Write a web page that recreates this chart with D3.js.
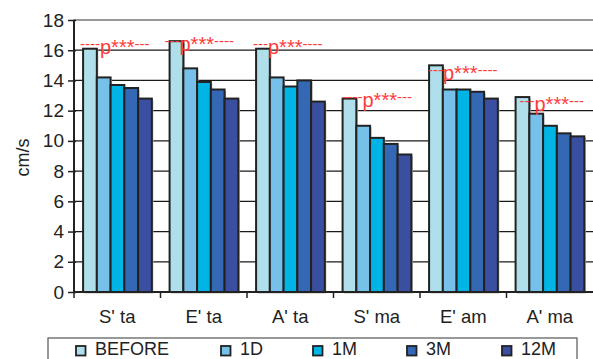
<!DOCTYPE html>
<html><head><meta charset="utf-8">
<script src="https://cdn.jsdelivr.net/npm/d3@7"></script>
<style>
html,body{margin:0;padding:0;background:#fff;}
svg{display:block;font-family:"Liberation Sans",Arial,sans-serif;}
</style></head>
<body>
<svg id="c" width="593" height="359"></svg>
<script>
const categories = ["S' ta", "E' ta", "A' ta", "S' ma", "E' am", "A' ma"];
const seriesNames = ["BEFORE", "1D", "1M", "3M", "12M"];
const before = [16.1, 16.6, 16.1, 12.8, 15.0, 12.9];
const d1     = [14.2, 14.8, 14.2, 11.0, 13.4, 11.8];
const m1     = [13.7, 13.9, 13.6, 10.2, 13.4, 11.0];
const m3     = [13.5, 13.4, 14.0,  9.8, 13.25, 10.5];
const m12    = [12.8, 12.8, 12.6,  9.1, 12.8, 10.3];
const yTicks = [0, 2, 4, 6, 8, 10, 12, 14, 16, 18];
const annotations = ["----p***---", "---p***----", "---p***----", "----p***---", "---p***----", "---p***---"];
const annotationLevel = [16.35, 16.55, 16.35, 12.85, 14.65, 12.6];

const colors = ["#aedfea", "#76c0e9", "#00b5e5", "#3468b5", "#3a4fa0"];
const seriesValues = [before, d1, m1, m3, m12];

const svg = d3.select("#c");
const L = 74, R = 593, T = 20, B = 292;
const FONT = "Liberation Sans, Arial, sans-serif";

const x = d3.scaleBand().domain(categories).range([L, R]).paddingInner(0).paddingOuter(0);
const bw = x.bandwidth();
const xs = d3.scaleBand().domain(seriesNames).range([bw * 0.105, bw * 0.9]).padding(0);
const y = d3.scaleLinear().domain([0, 18]).range([B, T]);

// plot border
svg.append("rect").attr("x", L).attr("y", T).attr("width", R - L + 2).attr("height", B - T)
  .attr("fill", "none").attr("stroke", "#777").attr("stroke-width", 1.5);

// grid lines
svg.append("g").selectAll("line").data(yTicks.filter(t => t > 0 && t < 18)).join("line")
  .attr("x1", L).attr("x2", R).attr("y1", d => y(d)).attr("y2", d => y(d))
  .attr("stroke", "#1a1a1a").attr("stroke-width", 1.3);

// bars
const rows = [];
categories.forEach((c, i) => seriesNames.forEach((s, j) => rows.push({c, s, j, v: seriesValues[j][i]})));
const bars = svg.append("g");
bars.selectAll("rect.sh").data(rows).join("rect").attr("class", "sh")
  .attr("x", d => x(d.c) + xs(d.s) + 1.5).attr("y", d => y(d.v) + 1.5)
  .attr("width", xs.bandwidth()).attr("height", d => B - y(d.v))
  .attr("fill", "#bbb");
bars.selectAll("rect.b").data(rows).join("rect").attr("class", "b")
  .attr("x", d => x(d.c) + xs(d.s)).attr("y", d => y(d.v))
  .attr("width", xs.bandwidth()).attr("height", d => B - y(d.v))
  .attr("fill", d => colors[d.j]).attr("stroke", "#222").attr("stroke-width", 2);

// y axis
const ya = svg.append("g").attr("transform", `translate(${L},0)`)
  .call(d3.axisLeft(y).tickValues(yTicks).tickSize(6).tickPadding(5).tickFormat(d3.format("d")));
ya.select(".domain").remove();
ya.selectAll(".tick line").attr("stroke", "#222").attr("stroke-width", 1.5).attr("x2", -6).attr("x1", 2);
ya.selectAll(".tick text").attr("font-size", 19).attr("fill", "#222").attr("x", -10)
  .attr("font-family", FONT);
svg.append("line").attr("x1", L).attr("x2", L).attr("y1", T).attr("y2", B + 1)
  .attr("stroke", "#222").attr("stroke-width", 2);

// x axis
svg.append("line").attr("x1", L).attr("x2", R).attr("y1", B).attr("y2", B)
  .attr("stroke", "#222").attr("stroke-width", 2);
const xa = svg.append("g").attr("transform", `translate(0,${B})`)
  .call(d3.axisBottom(x).tickSize(0).tickPadding(18));
xa.select(".domain").remove();
xa.selectAll(".tick text").attr("font-size", 18.5).attr("fill", "#222")
  .attr("font-family", FONT);
svg.append("g").selectAll("line").data(categories).join("line")
  .attr("x1", d => x(d)).attr("x2", d => x(d)).attr("y1", B).attr("y2", B + 6)
  .attr("stroke", "#222").attr("stroke-width", 1.5);

// y label
svg.append("text").attr("transform", "rotate(-90)").attr("x", -157.5).attr("y", 29)
  .attr("text-anchor", "middle").attr("font-size", 18).attr("fill", "#222").text("cm/s");

// annotations
const ann = svg.append("g").attr("fill", "#ff3b3b").attr("font-family", FONT);
categories.forEach((c, i) => {
  const s = annotations[i];
  const m = s.match(/^(-*)(p\*\*\*)(-*)$/);
  const t = ann.append("text").attr("x", x(c) + [6, 4, 6, 9, 8, 13][i]).attr("y", y(annotationLevel[i]) + 9);
  t.append("tspan").attr("font-size", 15).attr("dy", -4.5).text(m[1]);
  t.append("tspan").attr("font-size", 20).attr("dy", 4.5).text(m[2]);
  t.append("tspan").attr("font-size", 15).attr("dy", -4.5).text(m[3]);
});

// legend
svg.append("rect").attr("x", 48).attr("y", 338).attr("width", 529).attr("height", 30)
  .attr("fill", "none").attr("stroke", "#555").attr("stroke-width", 1.2);
const legX = [76, 221, 313, 407, 502];
const lg = svg.append("g").selectAll("g").data(seriesNames).join("g")
  .attr("transform", (d, i) => `translate(${legX[i]},346)`);
lg.append("rect").attr("width", 9.5).attr("height", 9.5).attr("fill", (d, i) => colors[i])
  .attr("stroke", "#222").attr("stroke-width", 1.8);
lg.append("text").attr("x", 19).attr("y", 9).attr("font-size", 18).attr("fill", "#222")
  .attr("font-family", FONT).text(d => d);
</script>
</body></html>
